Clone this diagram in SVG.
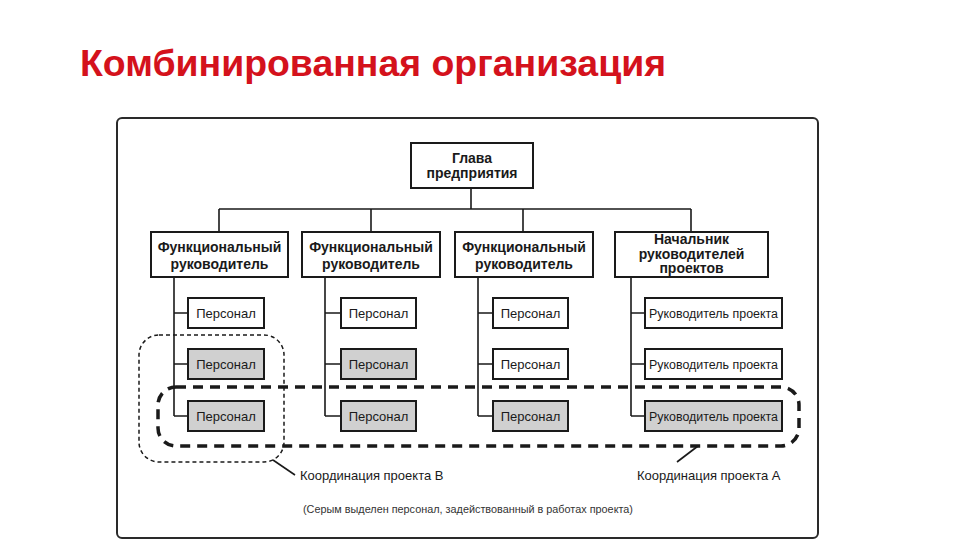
<svg xmlns="http://www.w3.org/2000/svg" width="960" height="540" viewBox="0 0 960 540">
<style>
.box{fill:#fff;stroke:#1a1a1a;stroke-width:2}
.gray{fill:#d0d0d0;stroke:#1a1a1a;stroke-width:2}
.hd{font-family:"Liberation Sans",Arial,sans-serif;font-weight:bold;font-size:14px;fill:#1a1a1a;text-anchor:middle}
.st{font-family:"Liberation Sans",Arial,sans-serif;font-size:13px;fill:#1a1a1a;text-anchor:middle}
.rp{font-family:"Liberation Sans",Arial,sans-serif;font-size:12px;fill:#1a1a1a;text-anchor:middle}
.ln{fill:none;stroke:#1a1a1a;stroke-width:1.6}
.lbl{font-family:"Liberation Sans",Arial,sans-serif;font-size:13px;fill:#1a1a1a}
</style>
<rect width="960" height="540" fill="#fff"/>
<text x="80" y="76" font-family="Liberation Sans,Arial,sans-serif" font-size="37" font-weight="bold" fill="#d4121c" textLength="586" lengthAdjust="spacingAndGlyphs">Комбинированная организация</text>
<rect x="117" y="118" width="701" height="420" rx="5" fill="none" stroke="#2a2a2a" stroke-width="2"/>
<g id="connectors">
<path class="ln" d="M471 188V209M219 209H691M219 209V232M371 209V232M523 209V232M691 209V232"/>
<path class="ln" d="M174 277V416M174 313H188M174 364H188M174 416H188"/>
<path class="ln" d="M325 277V416M325 313H341M325 364H341M325 416H341"/>
<path class="ln" d="M478 277V416M478 313H493M478 364H493M478 416H493"/>
<path class="ln" d="M631 277V416M631 313H645M631 364H645M631 416H645"/>
</g>
<g id="head"><rect class="box" x="411" y="143" width="122" height="45"/><text class="hd" x="472" y="163">Глава</text><text class="hd" x="472" y="178">предприятия</text></g>
<g id="f1"><rect class="box" x="151" y="232" width="137" height="45"/><text class="hd" x="219.5" y="252">Функциональный</text><text class="hd" x="219.5" y="269">руководитель</text></g>
<g id="f2"><rect class="box" x="302" y="232" width="138" height="45"/><text class="hd" x="371" y="252">Функциональный</text><text class="hd" x="371" y="269">руководитель</text></g>
<g id="f3"><rect class="box" x="455" y="232" width="138" height="45"/><text class="hd" x="524" y="252">Функциональный</text><text class="hd" x="524" y="269">руководитель</text></g>
<g id="pm"><rect class="box" x="615" y="232" width="153" height="45"/><text class="hd" x="691.5" y="244" font-size="12.5">Начальник</text><text class="hd" x="691.5" y="258.5" font-size="12.5">руководителей</text><text class="hd" x="691.5" y="273" font-size="12.5">проектов</text></g>
<g id="p11"><rect class="box" x="188" y="298" width="76" height="30"/><text class="st" x="226" y="318">Персонал</text></g>
<g id="p12"><rect class="gray" x="188" y="349" width="76" height="30"/><text class="st" x="226" y="369">Персонал</text></g>
<g id="p13"><rect class="gray" x="188" y="401" width="76" height="30"/><text class="st" x="226" y="421">Персонал</text></g>
<g id="p21"><rect class="box" x="341" y="298" width="75" height="30"/><text class="st" x="378.5" y="318">Персонал</text></g>
<g id="p22"><rect class="gray" x="341" y="349" width="75" height="30"/><text class="st" x="378.5" y="369">Персонал</text></g>
<g id="p23"><rect class="gray" x="341" y="401" width="75" height="30"/><text class="st" x="378.5" y="421">Персонал</text></g>
<g id="p31"><rect class="box" x="493" y="298" width="75" height="30"/><text class="st" x="530.5" y="318">Персонал</text></g>
<g id="p32"><rect class="box" x="493" y="349" width="75" height="30"/><text class="st" x="530.5" y="369">Персонал</text></g>
<g id="p33"><rect class="gray" x="493" y="401" width="75" height="30"/><text class="st" x="530.5" y="421">Персонал</text></g>
<g id="r1"><rect class="box" x="645" y="298" width="137" height="30"/><text class="rp" x="713.5" y="317.5" textLength="129" lengthAdjust="spacingAndGlyphs">Руководитель проекта</text></g>
<g id="r2"><rect class="box" x="645" y="349" width="137" height="30"/><text class="rp" x="713.5" y="368.5" textLength="129" lengthAdjust="spacingAndGlyphs">Руководитель проекта</text></g>
<g id="r3"><rect class="gray" x="645" y="401" width="137" height="30"/><text class="rp" x="713.5" y="420.5" textLength="129" lengthAdjust="spacingAndGlyphs">Руководитель проекта</text></g>
<g id="projB"><rect x="139" y="335" width="145" height="127" rx="20" fill="none" stroke="#1a1a1a" stroke-width="1.5" stroke-dasharray="4 3"/><path class="ln" d="M273 460L295 475" stroke-width="1.3"/><text class="lbl" x="300" y="480">Координация проекта В</text></g>
<g id="projA"><rect x="158" y="387" width="641" height="59" rx="18" fill="none" stroke="#1a1a1a" stroke-width="3.5" stroke-dasharray="10 7"/><path class="ln" d="M698 446L677 462" stroke-width="1.3"/><text class="lbl" x="637" y="480">Координация проекта А</text></g>
<text x="303" y="513" font-family="Liberation Sans,Arial,sans-serif" font-size="10.5" fill="#333" textLength="330" lengthAdjust="spacingAndGlyphs">(Серым выделен персонал, задействованный в работах проекта)</text>
</svg>
